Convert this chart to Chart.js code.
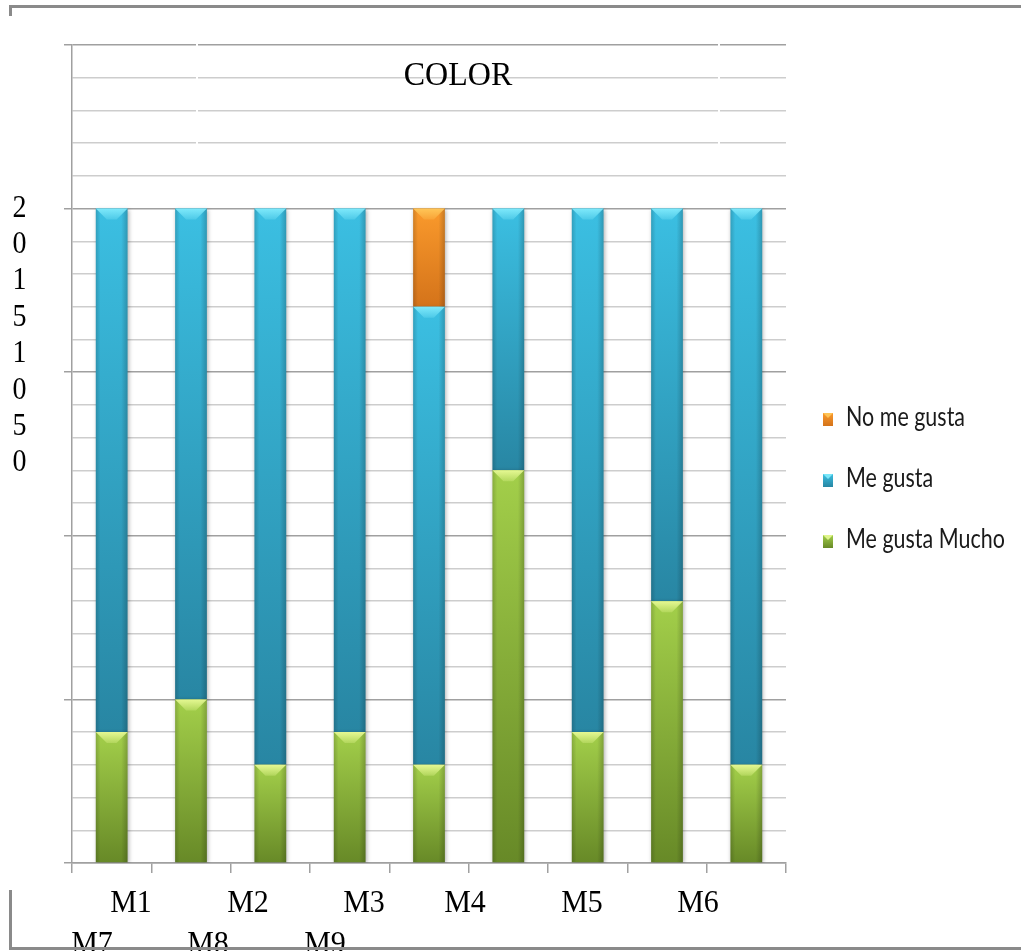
<!DOCTYPE html>
<html>
<head>
<meta charset="utf-8">
<title>COLOR</title>
<script src="https://cdn.jsdelivr.net/npm/chart.js@4.4.1/dist/chart.umd.min.js"></script>
<style>
  html, body { margin: 0; padding: 0; background: #fff; }
  #wrap { width: 1021px; height: 951px; position: relative; }
</style>
</head>
<body>
<div id="wrap"><canvas id="colorChart"></canvas></div>
<script>
// data
const categories = ["M1", "M2", "M3", "M4", "M5", "M6", "M7", "M8", "M9"];
const meGustaMucho = [4, 5, 3, 4, 3, 12, 4, 8, 3];
const meGusta = [16, 15, 17, 16, 14, 8, 16, 12, 17];
const noMeGusta = [0, 0, 0, 0, 3, 0, 0, 0, 0];
const yTickLabels = ["20", "15", "10", "5", "0"];
const chartTitle = "COLOR";

// the category names wrap under the axis: [centre x, line]
const xLabelSpots = [[131, 0], [248, 0], [364, 0], [465, 0], [582, 0], [698, 0], [92, 1], [208, 1], [325, 1]];

const serif = '"Liberation Serif", "Times New Roman", serif';

// vertical gradient for each stacked segment, light on top, dark at bottom
function segmentFill(light, dark) {
  return function (c) {
    const chart = c.chart;
    const y = chart.scales.y;
    if (!y || c.type !== 'data') return dark;
    let below = 0;
    for (let k = 0; k < c.datasetIndex; k++) below += chart.data.datasets[k].data[c.dataIndex];
    const top = y.getPixelForValue(below + c.raw);
    const bot = y.getPixelForValue(below);
    if (!isFinite(top) || !isFinite(bot) || bot - top < 1) return dark;
    const g = chart.ctx.createLinearGradient(0, top, 0, bot);
    g.addColorStop(0, light);
    g.addColorStop(1, dark);
    return g;
  };
}

// text a bit taller than wide, like the stretched original
function tallText(ctx, txt, x, y, sy) {
  ctx.save();
  ctx.translate(x, y);
  ctx.scale(1, sy);
  ctx.fillText(txt, 0, 0);
  ctx.restore();
}

// shadow + bevel look of the old office bars
const barLook = {
  id: 'barLook',
  beforeDatasetDraw(chart) {
    const ctx = chart.ctx;
    ctx.save();
    ctx.shadowColor = 'rgba(0,0,0,0.3)';
    ctx.shadowBlur = 4;
    ctx.shadowOffsetX = 1;
    ctx.shadowOffsetY = 1;
  },
  afterDatasetDraw(chart) {
    chart.ctx.restore();
  },
  afterDatasetsDraw(chart) {
    const ctx = chart.ctx;
    chart.data.datasets.forEach((ds, i) => {
      chart.getDatasetMeta(i).data.forEach(bar => {
        const p = bar.getProps(['x', 'y', 'base', 'width'], true);
        const h = p.base - p.y;
        if (h < 1) return;
        const l = p.x - p.width / 2, r = p.x + p.width / 2;
        const sg = ctx.createLinearGradient(l, 0, r, 0);
        sg.addColorStop(0, 'rgba(0,0,0,0.16)');
        sg.addColorStop(0.15, 'rgba(0,0,0,0)');
        sg.addColorStop(0.8, 'rgba(0,0,0,0)');
        sg.addColorStop(1, 'rgba(0,0,0,0.2)');
        ctx.fillStyle = sg;
        ctx.fillRect(l, p.y, p.width, h);
        const bh = Math.min(11, h / 2);
        const bg = ctx.createLinearGradient(0, p.y, 0, p.y + bh);
        bg.addColorStop(0, ds.bevel + '0.95)');
        bg.addColorStop(1, ds.bevel + '0.25)');
        ctx.beginPath();
        ctx.moveTo(l, p.y);
        ctx.lineTo(r, p.y);
        ctx.lineTo(r - bh, p.y + bh);
        ctx.lineTo(l + bh, p.y + bh);
        ctx.closePath();
        ctx.fillStyle = bg;
        ctx.fill();
      });
    });
  }
};

// title, broken tick text, wrapped category text, legend and frame
const decor = {
  id: 'decor',
  afterDraw(chart) {
    const ctx = chart.ctx;
    const area = chart.chartArea;
    ctx.save();

    // small gaps left by the title box in the upper grid
    ctx.fillStyle = '#fff';
    ctx.fillRect(196, area.top - 3, 2, 104);
    ctx.fillRect(718, area.top - 3, 2, 104);

    ctx.fillStyle = '#000';
    ctx.font = '32px ' + serif;
    ctx.textAlign = 'center';
    ctx.textBaseline = 'alphabetic';
    tallText(ctx, chartTitle, 458, 85, 1.08);

    // y tick labels came out one character per line
    ctx.font = '28px ' + serif;
    const chars = yTickLabels.join('').split('');
    const topPix = chart.scales.y.getPixelForValue(Number(yTickLabels[0]));
    chars.forEach((ch, k) => tallText(ctx, ch, 19.5, topPix + 8 + k * 36.4, 1.15));

    ctx.font = '30px ' + serif;
    categories.forEach((name, k) => {
      const spot = xLabelSpots[k];
      tallText(ctx, name, spot[0], 912 + spot[1] * 41, 1.05);
    });

    // legend, reversed like the stack
    const items = chart.data.datasets.slice().reverse();
    ctx.textAlign = 'left';
    ctx.font = '26px Lato, "Open Sans", sans-serif';
    const squeeze = 119 / ctx.measureText('No me gusta').width;
    items.forEach((ds, k) => {
      const base = 426 + k * 61;
      const bx = 823, by = base - 13, bw = 10, bhh = 13;
      const g = ctx.createLinearGradient(0, by, 0, by + bhh);
      g.addColorStop(0, ds.light);
      g.addColorStop(1, ds.dark);
      ctx.fillStyle = g;
      ctx.fillRect(bx, by, bw, bhh);
      ctx.fillStyle = ds.bevel + '0.9)';
      ctx.beginPath();
      ctx.moveTo(bx, by);
      ctx.lineTo(bx + bw, by);
      ctx.lineTo(bx + bw / 2, by + 5);
      ctx.closePath();
      ctx.fill();
      ctx.save();
      ctx.translate(846, base);
      ctx.scale(squeeze, 1);
      ctx.fillStyle = '#1a1a1a';
      ctx.fillText(ds.label, 0, 0);
      ctx.restore();
    });

    // frame remains
    ctx.strokeStyle = '#8a8a8a';
    ctx.lineWidth = 3;
    ctx.beginPath();
    ctx.moveTo(10.5, 16);
    ctx.lineTo(10.5, 6.5);
    ctx.lineTo(1021, 6.5);
    ctx.stroke();
    ctx.beginPath();
    ctx.moveTo(10.5, 890);
    ctx.lineTo(10.5, 948.5);
    ctx.lineTo(1021, 948.5);
    ctx.stroke();
    ctx.restore();
  }
};

const ctx = document.getElementById('colorChart').getContext('2d');
new Chart(ctx, {
  type: 'bar',
  data: {
    labels: categories,
    datasets: [
      {
        label: 'Me gusta Mucho',
        data: meGustaMucho,
        light: '#a3cf4a', dark: '#678927',
        bevel: 'rgba(232,250,150,',
        backgroundColor: segmentFill('#a3cf4a', '#678927')
      },
      {
        label: 'Me gusta',
        data: meGusta,
        light: '#3bbfe2', dark: '#2886a3',
        bevel: 'rgba(130,235,252,',
        backgroundColor: segmentFill('#3bbfe2', '#2886a3')
      },
      {
        label: 'No me gusta',
        data: noMeGusta,
        light: '#fa9a2c', dark: '#d4731a',
        bevel: 'rgba(255,200,90,',
        backgroundColor: segmentFill('#fa9a2c', '#d4731a')
      }
    ]
  },
  options: {
    responsive: true,
    maintainAspectRatio: false,
    animation: false,
    layout: { padding: { top: 45, right: 235, left: 0, bottom: 0 } },
    datasets: { bar: { categoryPercentage: 1, barPercentage: 0.4 } },
    plugins: {
      legend: { display: false },
      title: { display: false },
      tooltip: { enabled: false }
    },
    scales: {
      x: {
        stacked: true,
        ticks: { display: false },
        grid: { drawOnChartArea: false, offset: true, tickLength: 10, color: '#a0a0a0', lineWidth: 1.5 },
        border: { color: '#a0a0a0', width: 1.5 },
        afterFit: s => { s.height = 88; }
      },
      y: {
        stacked: true,
        min: 0,
        max: 25,
        ticks: { display: false, stepSize: 1 },
        grid: {
          tickLength: 8,
          lineWidth: 1.5,
          color: c => (c.tick && c.tick.value % 5 === 0 ? '#a0a0a0' : '#cdcdcd'),
          tickColor: c => (c.tick && c.tick.value % 5 === 0 ? '#a0a0a0' : 'rgba(0,0,0,0)')
        },
        border: { color: '#a0a0a0', width: 1.5 },
        afterFit: s => { s.width = 72; }
      }
    }
  },
  plugins: [barLook, decor]
});
</script>
</body>
</html>
